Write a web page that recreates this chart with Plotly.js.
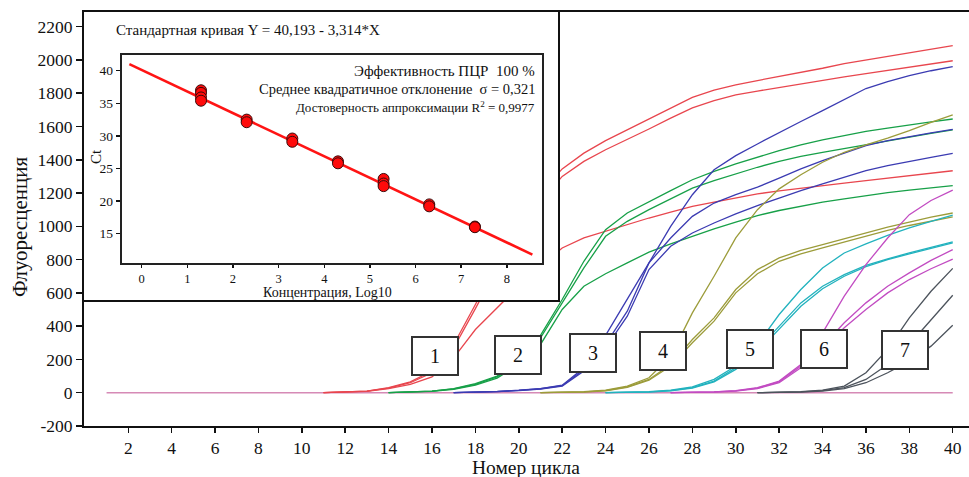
<!DOCTYPE html>
<html><head><meta charset="utf-8">
<script src="https://cdn.plot.ly/plotly-3.0.1.min.js"></script>
<style>html,body{margin:0;padding:0;background:#fff}#chart{width:969px;height:477px}</style>
</head><body><div id="chart"></div>
<script>
// ---------- main chart data ----------
const xTickVals = [2,4,6,8,10,12,14,16,18,20,22,24,26,28,30,32,34,36,38,40];
const yTickVals = [-200,0,200,400,600,800,1000,1200,1400,1600,1800,2000,2200];
const yTickText = ['-200','0','200','400','600','800','1000','1200','1400','1600','1800','2000','2200'];

const baselineX = [1, 40];
const baselineY = [0, 0];

const groupLabels = ['1','2','3','4','5','6','7'];
const groupColors = ['#e8464e','#17a048','#3b3bb2','#9c9c3a','#22b2be','#c24cc2','#4c535c'];
const groupStart = [11, 14, 17, 21, 24, 27, 31];
const labelX = [16.16, 19.94, 23.40, 26.64, 30.64, 34.06, 37.80];
const labelY = [223, 226, 238, 250, 261, 261, 256];

// group 1 (red), cycles 11..40
const red1 = [0,3,10,30,65,130,290,530,780,1010,1200,1345,1440,1515,1580,1645,1710,1775,1818,1850,1876,1900,1925,1950,1978,2000,2022,2044,2065,2086];
const red2 = [0,3,9,28,60,120,270,505,750,965,1145,1300,1390,1460,1520,1585,1650,1712,1755,1790,1813,1835,1858,1880,1898,1918,1938,1958,1977,1995];
const red3 = [0,2,8,25,50,95,210,380,510,640,760,870,930,970,1010,1050,1085,1120,1145,1170,1195,1213,1230,1245,1260,1275,1290,1305,1320,1334];
// group 2 (green), cycles 14..40
const green1 = [0,3,10,25,55,100,190,345,560,790,980,1080,1150,1215,1280,1330,1375,1415,1455,1490,1520,1545,1570,1590,1610,1628,1645];
const green2 = [0,3,9,23,50,95,180,330,540,750,940,1030,1100,1165,1230,1275,1315,1355,1390,1420,1445,1468,1492,1515,1537,1558,1579];
const green3 = [0,2,8,20,45,88,170,290,500,640,715,780,845,895,940,985,1025,1065,1095,1120,1145,1165,1185,1203,1218,1232,1244];
// group 3 (blue), cycles 17..40
const blue1 = [0,3,8,15,25,45,150,345,560,780,1000,1190,1340,1425,1495,1565,1630,1695,1760,1828,1870,1905,1935,1960];
const blue2 = [0,2,7,14,24,42,140,290,490,780,930,1060,1140,1190,1235,1290,1345,1395,1440,1485,1515,1540,1562,1583];
const blue3 = [0,2,6,13,22,40,130,270,460,740,880,960,1020,1075,1125,1170,1215,1255,1295,1335,1365,1392,1415,1438];
// group 4 (olive), cycles 21..40
const olive1 = [0,2,6,15,40,90,220,480,700,930,1100,1225,1310,1385,1445,1490,1530,1575,1625,1670];
const olive2 = [0,2,5,12,35,80,170,320,450,620,740,810,855,890,925,960,995,1025,1055,1080];
const olive3 = [0,1,4,11,32,75,160,300,430,600,715,790,835,870,905,940,975,1005,1032,1057];
// group 5 (cyan), cycles 24..40
const cyan1 = [0,2,6,15,35,80,160,290,470,620,750,840,895,945,990,1030,1067];
const cyan2 = [0,2,5,13,30,70,150,260,400,540,640,710,765,805,840,875,907];
const cyan3 = [0,1,4,11,27,65,140,245,380,520,625,700,758,800,835,868,900];
// group 6 (magenta), cycles 27..40
const magenta1 = [0,2,5,12,30,70,170,360,580,770,930,1070,1155,1218];
const magenta2 = [0,2,5,11,28,65,160,280,420,540,640,720,795,860];
const magenta3 = [0,1,4,10,25,60,150,260,390,500,600,680,745,803];
// group 7 (gray), cycles 31..40
const gray1 = [0,2,6,15,40,120,260,450,610,747];
const gray2 = [0,2,5,12,30,80,170,290,440,586];
const gray3 = [0,1,4,10,25,60,120,190,280,406];

const groups = [
  [red1, red2, red3],
  [green1, green2, green3],
  [blue1, blue2, blue3],
  [olive1, olive2, olive3],
  [cyan1, cyan2, cyan3],
  [magenta1, magenta2, magenta3],
  [gray1, gray2, gray3]
];

// ---------- inset (standard curve) data ----------
const concLog = [1.3,1.3,1.3,1.3, 2.3,2.3, 3.3,3.3, 4.3,4.3, 5.3,5.3,5.3, 6.3,6.3, 7.3,7.3];
const ctValues = [37.0,36.6,35.9,35.4, 32.5,32.1, 29.6,29.1, 26.1,25.8, 23.4,22.7,22.3, 19.5,19.2, 16.1,16.0];
const fitX = [-0.27, 8.56];
const fitY = [41.0, 11.8];
const insetXTicks = [0,1,2,3,4,5,6,7,8];
const insetYTicks = [15,20,25,30,35,40];

const FONT = 'Liberation Serif, Times New Roman, serif';

// ---------- build traces ----------
const traces = [];
traces.push({x: baselineX, y: baselineY, xaxis:'x', yaxis:'y', mode:'lines',
  line:{color:'#d68ab6', width:1.6}, hoverinfo:'skip', showlegend:false});
groups.forEach((g, gi) => {
  g.forEach(vals => {
    const xs = vals.map((v, i) => groupStart[gi] + i);
    traces.push({x: xs, y: vals, xaxis:'x', yaxis:'y', mode:'lines',
      line:{color: groupColors[gi], width:1.3}, showlegend:false, name:'Группа ' + groupLabels[gi]});
  });
});
// empty trace for the cover subplot
traces.push({x: [], y: [], xaxis:'x2', yaxis:'y2', mode:'markers', showlegend:false});
// inset
traces.push({x: fitX, y: fitY, xaxis:'x3', yaxis:'y3', mode:'lines',
  line:{color:'#ff1414', width:2.6}, showlegend:false});
traces.push({x: concLog, y: ctValues, xaxis:'x3', yaxis:'y3', mode:'markers',
  marker:{color:'#ff0a0a', size:11, line:{color:'#3a0a0a', width:1}}, showlegend:false});

// ---------- geometry helpers (pixel -> paper) ----------
const L = 84, R = 969, T = 12, B = 426;
const px = v => (v - L) / (R - L);
const py = v => (B - v) / (B - T);

const annotations = [];
groupLabels.forEach((t, i) => {
  annotations.push({x: labelX[i], y: labelY[i], xref:'x', yref:'y', text: t, showarrow:false,
    font:{family:FONT, size:20, color:'#111'}, bgcolor:'#fff', bordercolor:'#333', borderwidth:2,
    borderpad:0, width:44, height:36, xanchor:'center', yanchor:'middle'});
});
const txt = (text, x, y, size, xanchor, extra) => Object.assign({text, x:px(x), y:py(y), xref:'paper', yref:'paper',
  showarrow:false, font:{family:FONT, size, color:'#111'}, xanchor: xanchor || 'center', yanchor:'middle'}, extra || {});
annotations.push(txt('Стандартная кривая Y = 40,193 - 3,314*X', 114, 30, 15, 'left'));
annotations.push(txt('Эффективность ПЦР  100 %', 537, 71, 15, 'right'));
annotations.push(txt('Среднее квадратичное отклонение  σ = 0,321', 537, 89, 14.5, 'right'));
annotations.push(txt('Достоверность аппроксимации R<sup>2</sup> = 0,9977', 537, 107, 13, 'right'));
annotations.push(txt('Ct', 96, 157, 15, 'center', {textangle:-90}));
annotations.push(txt('Концентрация, Log10', 327, 292.5, 14, 'center'));
annotations.push(txt('Флуоресценция', 20, 227, 21, 'center', {textangle:-90}));
annotations.push(txt('Номер цикла', 526, 467, 19.5, 'center'));

const baseAxis = {showgrid:false, zeroline:false, showline:true, linecolor:'#111', linewidth:2,
  ticks:'outside', tickcolor:'#111', tickwidth:1.5, tickfont:{family:FONT, size:17.5, color:'#111'}, fixedrange:true};

const layout = {
  width:969, height:477,
  margin:{l:L, r:0, t:T, b:477-B, pad:0},
  paper_bgcolor:'#fff', plot_bgcolor:'#fff',
  showlegend:false,
  font:{family:FONT, color:'#111'},
  xaxis: Object.assign({}, baseAxis, {domain:[0,1], anchor:'y', range:[-0.04, 40.75],
    tickmode:'array', tickvals:xTickVals, ticklen:5, mirror:true}),
  yaxis: Object.assign({}, baseAxis, {domain:[0,1], anchor:'x', range:[-200, 2288],
    tickmode:'array', tickvals:yTickVals, ticktext:yTickText, ticklen:6}),
  xaxis2: {domain:[0, px(558)], anchor:'y2', range:[0,1], showgrid:false, zeroline:false,
    showticklabels:false, ticks:'', showline:true, mirror:true, linecolor:'#111', linewidth:2, fixedrange:true},
  yaxis2: {domain:[py(300), 1], anchor:'x2', range:[0,1], showgrid:false, zeroline:false,
    showticklabels:false, ticks:'', showline:true, mirror:true, linecolor:'#111', linewidth:2, fixedrange:true},
  xaxis3: Object.assign({}, baseAxis, {domain:[px(122), px(542)], anchor:'y3', range:[-0.431, 8.77],
    tickmode:'array', tickvals:insetXTicks, ticklen:3, mirror:true, linecolor:'#222', linewidth:2.2,
    tickfont:{family:FONT, size:12.5, color:'#111'}}),
  yaxis3: Object.assign({}, baseAxis, {domain:[py(263), py(55)], anchor:'x3', range:[10.51, 42.41],
    tickmode:'array', tickvals:insetYTicks, ticklen:4, mirror:true, linecolor:'#222', linewidth:2.2,
    tickfont:{family:FONT, size:13.5, color:'#111'}}),
  shapes: [
    {type:'rect', xref:'x2', yref:'y2', x0:0, x1:1, y0:0, y1:1, fillcolor:'#fff', line:{width:0}, layer:'below'}
  ],
  annotations
};

Plotly.newPlot('chart', traces, layout, {displayModeBar:false, staticPlot:true});
</script>
</body></html>
